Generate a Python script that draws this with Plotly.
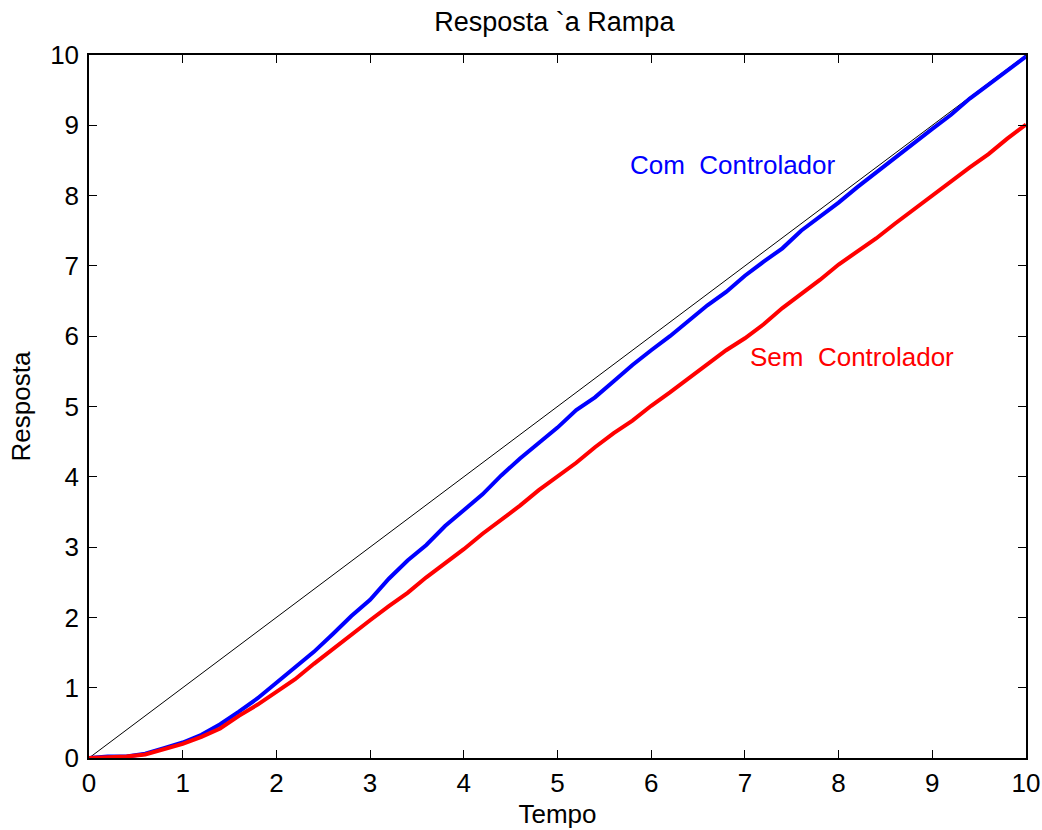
import plotly.graph_objects as go

tempo = [round(0.2 * i, 1) for i in range(51)]

rampa = [0.0, 0.2, 0.4, 0.6, 0.8, 1.0, 1.2, 1.4, 1.6, 1.8, 2.0, 2.2, 2.4, 2.6, 2.8,
         3.0, 3.2, 3.4, 3.6, 3.8, 4.0, 4.2, 4.4, 4.6, 4.8, 5.0, 5.2, 5.4, 5.6, 5.8,
         6.0, 6.2, 6.4, 6.6, 6.8, 7.0, 7.2, 7.4, 7.6, 7.8, 8.0, 8.2, 8.4, 8.6, 8.8,
         9.0, 9.2, 9.4, 9.6, 9.8, 10.0]

com_controlador = [0.0, 0.02, 0.02, 0.06, 0.14, 0.22, 0.33, 0.48, 0.66, 0.85, 1.07,
                   1.29, 1.51, 1.76, 2.02, 2.25, 2.55, 2.81, 3.03, 3.30, 3.52, 3.75,
                   4.02, 4.26, 4.48, 4.70, 4.95, 5.13, 5.36, 5.59, 5.80, 6.00, 6.22,
                   6.44, 6.63, 6.86, 7.06, 7.25, 7.50, 7.70, 7.90, 8.12, 8.33, 8.53,
                   8.75, 8.95, 9.15, 9.38, 9.58, 9.78, 9.98]

sem_controlador = [0.0, 0.01, 0.02, 0.05, 0.12, 0.20, 0.30, 0.42, 0.60, 0.76, 0.94,
                   1.12, 1.34, 1.55, 1.75, 1.96, 2.16, 2.35, 2.57, 2.77, 2.97, 3.19,
                   3.39, 3.59, 3.81, 4.01, 4.20, 4.42, 4.62, 4.80, 5.01, 5.20, 5.40,
                   5.61, 5.80, 5.97, 6.17, 6.40, 6.60, 6.80, 7.02, 7.20, 7.39, 7.60,
                   7.80, 8.00, 8.21, 8.40, 8.59, 8.81, 9.01]

ticks = list(range(0, 11))

FONT = "Liberation Sans, Arial, sans-serif"

fig = go.Figure()
fig.add_trace(go.Scatter(x=tempo, y=rampa, mode="lines",
                         line=dict(color="black", width=1), showlegend=False))
fig.add_trace(go.Scatter(x=tempo, y=com_controlador, mode="lines",
                         line=dict(color="#0000ff", width=4), showlegend=False))
fig.add_trace(go.Scatter(x=tempo, y=sem_controlador, mode="lines",
                         line=dict(color="#ff0000", width=4), showlegend=False))

fig.add_annotation(x=6.87, y=8.44, text="Com  Controlador", showarrow=False,
                   font=dict(color="#0000ff", size=26, family=FONT))
fig.add_annotation(x=8.14, y=5.70, text="Sem  Controlador", showarrow=False,
                   font=dict(color="#ff0000", size=26, family=FONT))

axis_common = dict(range=[0, 10], tickvals=ticks, ticktext=[str(t) for t in ticks],
                   ticks="inside", ticklen=8, tickwidth=1, tickcolor="black",
                   showline=True, linecolor="black", linewidth=1.5, mirror="allticks",
                   showgrid=False, zeroline=False, automargin=False,
                   tickfont=dict(size=26, color="black", family=FONT))

fig.update_xaxes(**axis_common, ticklabelstandoff=1,
                 title=dict(text="Tempo", font=dict(size=26, color="black", family=FONT), standoff=8))
fig.update_yaxes(**axis_common, ticklabelstandoff=3,
                 title=dict(text="Resposta", font=dict(size=26, color="black", family=FONT), standoff=12))

fig.update_layout(
    width=1042, height=830,
    margin=dict(l=89, r=16, t=55, b=72),
    paper_bgcolor="white", plot_bgcolor="white",
    title=dict(text="Resposta `a Rampa", x=0.532, xanchor="center", y=0.9735, yanchor="middle",
               font=dict(size=27, color="black", family=FONT)),
)

fig.write_html("out.html", config={"displayModeBar": False},
               post_script="document.body.style.margin='0';document.body.style.overflow='hidden';")
